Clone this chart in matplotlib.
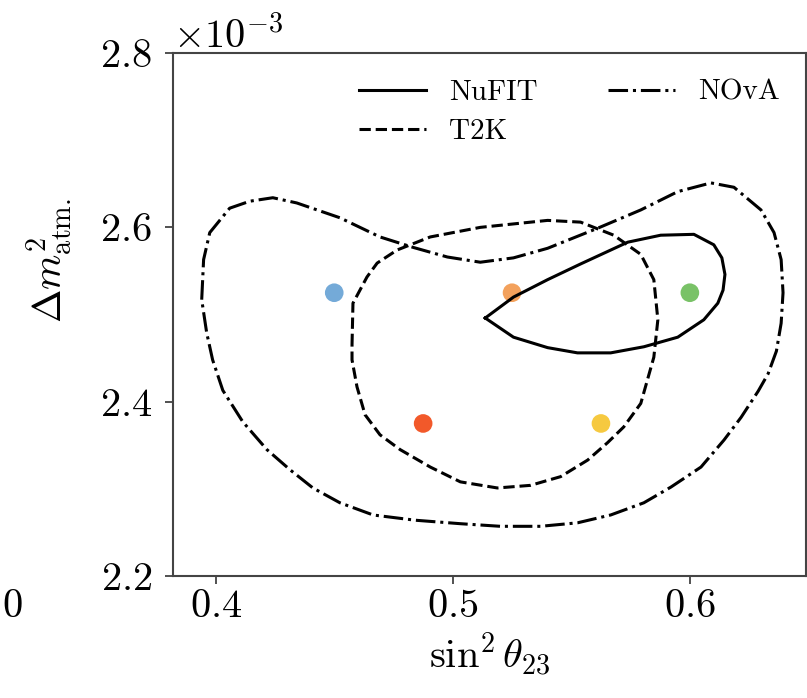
import matplotlib
matplotlib.use('Agg')
import matplotlib.pyplot as plt
import numpy as np

plt.rcParams['font.family'] = 'serif'
plt.rcParams['font.serif'] = ['cmr10']
plt.rcParams['mathtext.fontset'] = 'cm'
plt.rcParams['axes.formatter.use_mathtext'] = True
plt.rcParams['axes.unicode_minus'] = False

# contour outlines (dm2 in units of 1e-3 eV^2)
nufit_s23 = [0.5137, 0.5256, 0.5400, 0.5539, 0.5738, 0.5877, 0.6017, 0.6101,
             0.6135, 0.6148, 0.6140, 0.6118, 0.6059, 0.5949, 0.5806, 0.5666,
             0.5526, 0.5400, 0.5256, 0.5137]
nufit_dm2 = [2.496, 2.520, 2.540, 2.558, 2.583, 2.591, 2.592, 2.580,
             2.565, 2.546, 2.528, 2.513, 2.494, 2.474, 2.463, 2.456,
             2.456, 2.462, 2.474, 2.496]

t2k_s23 = [0.4575, 0.4579, 0.4638, 0.4681, 0.4765, 0.4905, 0.5116, 0.5400,
           0.5539, 0.5679, 0.5793, 0.5848, 0.5865, 0.5848, 0.5793, 0.5721,
           0.5653, 0.5569, 0.5455, 0.5328, 0.5188, 0.5032, 0.4905, 0.4778,
           0.4693, 0.4630, 0.4596, 0.4575, 0.4575]
t2k_dm2 = [2.465, 2.513, 2.543, 2.559, 2.574, 2.589, 2.600, 2.608,
           2.606, 2.591, 2.569, 2.540, 2.494, 2.451, 2.398, 2.371,
           2.353, 2.333, 2.314, 2.304, 2.301, 2.308, 2.325, 2.345,
           2.362, 2.385, 2.417, 2.448, 2.465]

nova_s23 = [0.3941, 0.3949, 0.3975, 0.4059, 0.4144, 0.4241, 0.4342, 0.4524,
            0.4693, 0.4833, 0.4977, 0.5116, 0.5256, 0.5400, 0.5611, 0.5793,
            0.5949, 0.6089, 0.6186, 0.6300, 0.6355, 0.6385, 0.6393, 0.6385,
            0.6365, 0.6330, 0.6288, 0.6216, 0.6144, 0.6047, 0.5920, 0.5806,
            0.5666, 0.5526, 0.5370, 0.5201, 0.5032, 0.4841, 0.4664, 0.4524,
            0.4410, 0.4313, 0.4216, 0.4114, 0.4030, 0.3987, 0.3962, 0.3941]
nova_dm2 = [2.517, 2.563, 2.594, 2.622, 2.630, 2.634, 2.628, 2.611,
            2.589, 2.577, 2.566, 2.560, 2.565, 2.576, 2.599, 2.620,
            2.641, 2.651, 2.646, 2.620, 2.594, 2.563, 2.525, 2.490,
            2.458, 2.432, 2.412, 2.382, 2.356, 2.325, 2.302, 2.284,
            2.270, 2.261, 2.257, 2.257, 2.260, 2.264, 2.270, 2.284,
            2.301, 2.322, 2.345, 2.377, 2.413, 2.448, 2.479, 2.517]

# benchmark points
pt_s23 = [0.450, 0.525, 0.600, 0.4875, 0.5625]
pt_dm2 = [2.525, 2.525, 2.525, 2.375, 2.375]
pt_colors = ['#74aad8', '#f3a15c', '#79c267', '#f2592a', '#f6c940']

fig = plt.figure(figsize=(8.07, 6.98), dpi=100)
ax = fig.add_axes([0.2144, 0.1748, 0.7844, 0.7492])

lw = 2.2
ax.plot(nufit_s23, np.array(nufit_dm2) * 1e-3, color='k', lw=lw, ls='-', label='NuFIT')
ax.plot(t2k_s23, np.array(t2k_dm2) * 1e-3, color='k', lw=lw, ls='--', label='T2K')
ax.plot(nova_s23, np.array(nova_dm2) * 1e-3, color='k', lw=lw, ls='-.', label='NOvA')

ax.scatter(pt_s23, np.array(pt_dm2) * 1e-3, s=180, c=pt_colors, zorder=1, edgecolors='none')

ax.set_xlim(0.382, 0.649)
ax.set_ylim(2.2e-3, 2.8e-3)
ax.set_xticks([0.4, 0.5, 0.6])
ax.set_yticks([2.2e-3, 2.4e-3, 2.6e-3, 2.8e-3])
ax.ticklabel_format(axis='y', style='sci', scilimits=(0, 0))
ax.tick_params(labelsize=29, length=6, width=1.2, colors='#333333', labelcolor='black')
ax.tick_params(axis='y', pad=9)
ax.yaxis.get_offset_text().set_fontsize(29)
for sp in ax.spines.values():
    sp.set_linewidth(1.5)
    sp.set_color('#444444')

ax.set_xlabel(r'$\sin^2\theta_{23}$', fontsize=29, labelpad=4)
ax.set_ylabel(r'$\Delta m^2_{\rm atm.}$', fontsize=29)
ax.yaxis.set_label_coords(-0.155, 0.604)

ax.legend(loc='upper right', ncol=2, frameon=False, fontsize=21,
          handlelength=2.3, handletextpad=0.8, columnspacing=2.4,
          labelspacing=0.45, borderaxespad=0.5)

# tick label of the neighbouring panel, cut off at the left edge
fig.text(12 / 807, 1 - 607 / 698, '$0$', fontsize=29, ha='center', va='center')

plt.savefig('out.png', dpi=100)
